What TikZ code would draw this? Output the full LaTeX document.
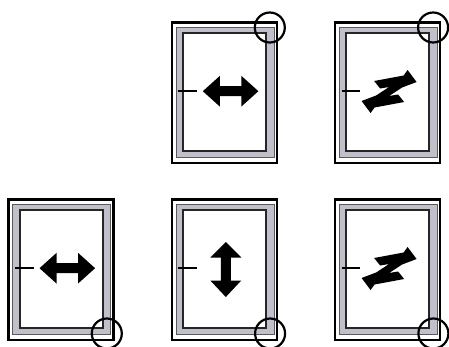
\documentclass[tikz,border=0pt]{standalone}
\usepackage{xcolor}
\definecolor{bandgray}{RGB}{192,192,202}

\begin{document}
\begin{tikzpicture}[x=1pt, y=-1pt,
  frame/.style={draw=black, line width=2.4pt},
  band/.style={fill=bandgray, draw=black!65, line width=0.8pt},
  inner/.style={fill=white, draw=black!85, line width=2pt},
  tick/.style={draw=black, line width=2pt},
  ring/.style={draw=black, line width=2.2pt}]
  \clip (0,0) rectangle (449,346);
  % top row, middle sheet
  \begin{scope}[shift={(171.8,22.5)}]
    \draw[frame] (0,0) rectangle (105,140.5);
    \draw[band] (4.3,5) rectangle (102.3,135.3);
    \draw[inner] (11.3,10.3) rectangle (94,128);
    \draw[tick] (6.5,68.7) -- (25,68.7);
    \fill (31,68.7) -- (48,53.4) -- (48,63.7) -- (69.6,63.7) -- (69.6,53.4) -- (86.6,68.7)
      -- (69.6,84) -- (69.6,73.7) -- (48,73.7) -- (48,84) -- cycle;
    \draw[ring] (98,5) circle (15pt);
  \end{scope}
  % top row, right sheet
  \begin{scope}[shift={(335.1,22.5)}]
    \draw[frame] (0,0) rectangle (105,140.5);
    \draw[band] (4.3,5) rectangle (102.3,135.3);
    \draw[inner] (11.3,10.3) rectangle (94,128);
    \draw[tick] (6.5,68.7) -- (25,68.7);
    \fill (39,58.5) -- (68.5,53) -- (72.5,47.5) -- (81.5,59.5) -- (67,65) -- (54,73.5)
      -- (63,72) -- (69,79.5) -- (39.5,85) -- (35.5,90.5) -- (26.5,78.5) -- (41,73)
      -- (54,64.5) -- (45,66) -- cycle;
    \draw[ring] (98,5) circle (15pt);
  \end{scope}
  % bottom row, left sheet
  \begin{scope}[shift={(8.5,199.5)}]
    \draw[frame] (0,0) rectangle (105,140.5);
    \draw[band] (4.3,5) rectangle (102.3,135.3);
    \draw[inner] (11.3,10.3) rectangle (94,128);
    \draw[tick] (6.5,68.7) -- (25,68.7);
    \fill (31,68.7) -- (48,53.4) -- (48,63.7) -- (69.6,63.7) -- (69.6,53.4) -- (86.6,68.7)
      -- (69.6,84) -- (69.6,73.7) -- (48,73.7) -- (48,84) -- cycle;
    \draw[ring] (98.3,134) circle (15pt);
  \end{scope}
  % bottom row, middle sheet
  \begin{scope}[shift={(171.8,199.5)}]
    \draw[frame] (0,0) rectangle (105,140.5);
    \draw[band] (4.3,5) rectangle (102.3,135.3);
    \draw[inner] (11.3,10.3) rectangle (94,128);
    \draw[tick] (6.5,68.7) -- (25,68.7);
    \fill (54,42.5) -- (69.5,58) -- (59,58) -- (59,81) -- (69.5,81) -- (54,97.5)
      -- (38.5,81) -- (49,81) -- (49,58) -- (38.5,58) -- cycle;
    \draw[ring] (98.3,134) circle (15pt);
  \end{scope}
  % bottom row, right sheet
  \begin{scope}[shift={(335.1,199.5)}]
    \draw[frame] (0,0) rectangle (105,140.5);
    \draw[band] (4.3,5) rectangle (102.3,135.3);
    \draw[inner] (11.3,10.3) rectangle (94,128);
    \draw[tick] (6.5,68.7) -- (25,68.7);
    \fill (39,58.5) -- (68.5,53) -- (72.5,47.5) -- (81.5,59.5) -- (67,65) -- (54,73.5)
      -- (63,72) -- (69,79.5) -- (39.5,85) -- (35.5,90.5) -- (26.5,78.5) -- (41,73)
      -- (54,64.5) -- (45,66) -- cycle;
    \draw[ring] (98.3,134) circle (15pt);
  \end{scope}
\end{tikzpicture}
\end{document}
